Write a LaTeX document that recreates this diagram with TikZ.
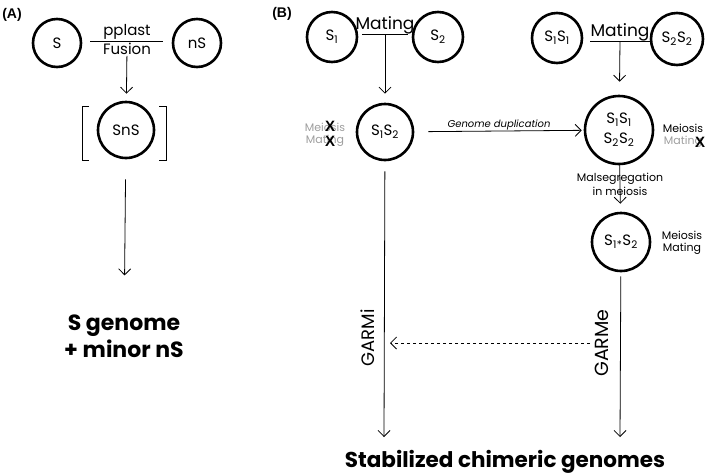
\documentclass[tikz,border=0pt]{standalone}
\usepackage{fontspec}
\setmainfont{Poppins}
\newfontfamily\panelfont{Liberation Sans}
\usetikzlibrary{arrows.meta}
\definecolor{faded}{gray}{0.62}
\tikzset{
    cell/.style={circle, draw, line width=2.6pt, minimum size=#1, inner sep=0pt,
        font=\fontsize{15}{18}\selectfont},
    arr/.style={draw, line width=0.8pt, -{Straight Barb[length=6pt,width=12pt]}},
    link/.style={draw, line width=0.8pt},
    tag/.style={font=\fontsize{#1}{#1}\selectfont, inner sep=1pt},
    cross/.style={font=\panelfont\bfseries\fontsize{15}{15}\selectfont, inner sep=0pt},
}
\begin{document}
\begin{tikzpicture}[x=1pt, y=-1pt]
    \useasboundingbox (0,0) rectangle (709,475);
    % Panel labels
    \node[font=\panelfont\bfseries\fontsize{14}{14}\selectfont] (pa) at (12,15) {(A)};
    \node[font=\panelfont\bfseries\fontsize{14}{14}\selectfont] (pb) at (282,14) {(B)};
    % (A) protoplast fusion
    \node[cell=48pt] (s) at (57,43) {S};
    \node[cell=48pt] (ns) at (197,43) {nS};
    \coordinate (fl) at (90,41);
    \coordinate (fr) at (163,41);
    \draw[link] (fl) -- (fr);
    \node[tag=15, anchor=south] (pplast) at (127,41) {pplast};
    \node[tag=15, anchor=north] (fusion) at (127,42) {Fusion};
    \node[cell=56pt] (sns) at (126,130) {SnS};
    \draw[link] (89,106) -- (82,106) -- (82,160) -- (89,160); % left bracket
    \draw[link] (159,106) -- (166,106) -- (166,160) -- (159,160); % right bracket
    \draw[arr, shorten >=7pt] (fusion) -- (sns);
    \node[tag=22, align=center, font=\bfseries\fontsize{22}{27}\selectfont] (sgen) at (124,336) {S genome\\+ minor nS};
    \draw[arr, shorten <=20pt, shorten >=38pt] (sns) -- (sgen);
    % (B) mating of two haploids
    \node[cell=50pt] (sa) at (332,37) {S\textsubscript{1}};
    \node[cell=50pt] (sb) at (438,37) {S\textsubscript{2}};
    \coordinate (ml) at (362,34);
    \coordinate (mr) at (408,34);
    \coordinate (mc) at (385,34);
    \draw[link] (ml) -- (mr);
    \node[tag=17, anchor=south] (mate) at (385,35) {Mating};
    \node[cell=56pt] (sab) at (385,132) {S\textsubscript{1}S\textsubscript{2}};
    \draw[arr, shorten >=9pt] (mc) -- (sab);
    \node[tag=11, text=faded] (meia) at (325,127) {Meiosis};
    \node[tag=11, text=faded] (mata) at (325,141) {Mating};
    \node[cross] (xa) at (330,126) {X};
    \node[cross] (xb) at (330,141) {X};
    % (B) mating of two diploids
    \node[cell=50pt] (saa) at (557,38) {S\textsubscript{1}S\textsubscript{1}};
    \node[cell=52pt] (sbb) at (677,39) {S\textsubscript{2}S\textsubscript{2}};
    \coordinate (nl) at (590,41);
    \coordinate (nr) at (650,41);
    \coordinate (nc) at (620,41);
    \draw[link] (nl) -- (nr);
    \node[tag=17, anchor=south] (mateb) at (620,42) {Mating};
    \node[cell=68pt, align=center, font=\fontsize{15}{20}\selectfont] (big) at (619,130)
        {S\textsubscript{1}S\textsubscript{1}\\S\textsubscript{2}S\textsubscript{2}};
    \draw[arr, shorten >=13pt] (nc) -- (big);
    \node[tag=11] (meib) at (683,128) {Meiosis};
    \node[tag=11, text=faded] (matb) at (683,142) {Mating};
    \node[cross] (xc) at (700,142) {X};
    % Genome duplication
    \draw[arr, shorten <=14pt, shorten >=2pt] (sab) -- node[above, tag=10, font=\itshape\fontsize{10}{10}\selectfont] (dup) {Genome duplication} (big);
    % Malsegregation
    \node[cell=58pt] (sx) at (621,242) {S\textsubscript{1}\textsubscript{*}S\textsubscript{2}};
    \draw[arr, shorten >=8pt] (big) -- (sx);
    \node[tag=11, align=center, font=\fontsize{11}{14}\selectfont] (mal) at (620,184) {Malsegregation\\in meiosis};
    \node[tag=11] (meic) at (682,235) {Meiosis};
    \node[tag=11] (matc) at (682,249) {Mating};
    % Stabilisation
    \coordinate (ei) at (384,437);
    \coordinate (ee) at (620,437);
    \draw[arr, shorten <=10pt] (sab) -- (ei);
    \draw[arr, shorten <=4pt] (sx) -- (ee);
    \coordinate (dr) at (590,343);
    \coordinate (dl) at (390,343);
    \draw[arr, dashed] (dr) -- (dl);
    \node[tag=18, rotate=90] (garmi) at (368,338) {GARMi};
    \node[tag=19, rotate=90] (garme) at (602,343) {GARMe};
    \node[font=\bfseries\fontsize{21.5}{22}\selectfont] (stab) at (505,462) {Stabilized chimeric genomes};
\end{tikzpicture}
\end{document}
